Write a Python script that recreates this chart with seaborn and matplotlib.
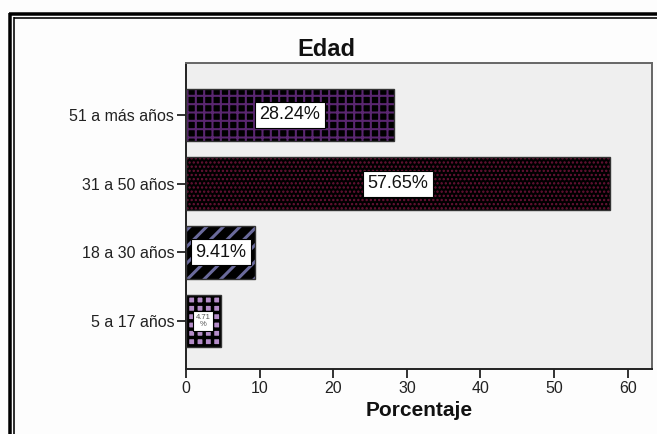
import matplotlib
matplotlib.use("Agg")
import matplotlib.pyplot as plt
from matplotlib.lines import Line2D
import seaborn as sns
import pandas as pd

# Age groups and their share of respondents (%)
categories = ["51 a más años", "31 a 50 años", "18 a 30 años", "5 a 17 años"]
percentages = [28.24, 57.65, 9.41, 4.71]
value_labels = ["28.24%", "57.65%", "9.41%", "4.71\n%"]
x_ticks = [0, 10, 20, 30, 40, 50, 60]

# Fill pattern for each bar: face colour, hatch colour, hatch style, hatch width
bar_faces = ["#000000", "#000000", "#000000", "#b48cc8"]
hatch_colors = ["#5a2670", "#6a1236", "#6a6a9c", "#000000"]
hatch_styles = ["++", "....", "//", "++"]
hatch_widths = [1.5, 1.1, 2.2, 2.5]

sns.set_style("ticks")
plt.rcParams["font.family"] = ["Liberation Sans", "DejaVu Sans"]
plt.rcParams["hatch.linewidth"] = 2.2

W, H = 657, 434
fig = plt.figure(figsize=(W / 100, H / 100), dpi=100)
fig.patch.set_facecolor("#fdfdfd")

left, right, top, bottom = 186, 652, 63, 369
ax = fig.add_axes([left / W, 1 - bottom / H, (right - left) / W, (bottom - top) / H])
ax.set_facecolor("#efefef")

df = pd.DataFrame({"Edad": categories, "Porcentaje": percentages})
bar_height = 0.77
sns.barplot(data=df, x="Porcentaje", y="Edad", orient="h", order=categories,
            width=bar_height, ax=ax, color="black", saturation=1, errorbar=None)

for patch, face, hc, hs, hw in zip(ax.patches, bar_faces, hatch_colors,
                                   hatch_styles, hatch_widths):
    patch.set_facecolor(face)
    patch.set_edgecolor(hc)
    patch.set_hatch(hs)
    patch.set_linewidth(0)
    if hasattr(patch, "set_hatch_linewidth"):
        patch.set_hatch_linewidth(hw)

# thin dark outline around every bar
ax.barh(range(len(categories)), percentages, height=bar_height, fill=False,
        edgecolor="#333333", linewidth=1.0, zorder=3)

# value labels in white boxes at the middle of each bar
for i, (v, lab) in enumerate(zip(percentages, value_labels)):
    small = "\n" in lab
    ax.text(v / 2, i, lab, ha="center", va="center",
            fontsize=5.5 if small else 13,
            color="#555555" if small else "#111111",
            linespacing=1.1, zorder=5,
            bbox=dict(boxstyle="square,pad=0.35" if small else "square,pad=0.25",
                      facecolor="white", edgecolor="black", linewidth=0.8))

ax.set_xlim(0, 63.3)
ax.set_ylim(3.70, -0.757)
ax.set_xticks(x_ticks)
ax.set_xticklabels([str(t) for t in x_ticks])

for side in ["top", "right"]:
    ax.spines[side].set_visible(True)
    ax.spines[side].set_color("#666666")
    ax.spines[side].set_linewidth(1.4)
for side in ["left", "bottom"]:
    ax.spines[side].set_color("#222222")
    ax.spines[side].set_linewidth(1.4)

ax.tick_params(axis="both", labelsize=11.5, colors="#222222", length=6.5,
               width=1.3, pad=2, labelcolor="#222222")
ax.set_ylabel("")
ax.set_xlabel("Porcentaje", fontsize=15, fontweight="bold", color="#111111")
ax.xaxis.set_label_coords(0.5, -(411 - bottom) / (bottom - top))
ax.xaxis.label.set_va("center")

fig.text(0.497, 1 - 49 / H, "Edad", ha="center", va="center",
         fontsize=17, fontweight="bold", color="#111111")

# double black frame along the top and left of the chart
def px(x, y):
    return x / W, 1 - y / H

for (x0, y0), lw_px in [((10.3, 14.3), 3.5), ((14.3, 18.2), 1.6)]:
    xa, ya = px(x0 - lw_px / 2, y0)
    xb, _ = px(W + 5, y0)
    fig.add_artist(Line2D([xa, xb], [ya, ya], color="black", linewidth=lw_px * 0.72,
                          solid_capstyle="butt"))
    xl, yt = px(x0, y0 - lw_px / 2)
    _, yb = px(x0, H + 5)
    fig.add_artist(Line2D([xl, xl], [yt, yb], color="black", linewidth=lw_px * 0.72,
                          solid_capstyle="butt"))

fig.savefig("out.png", dpi=100, facecolor=fig.get_facecolor())
